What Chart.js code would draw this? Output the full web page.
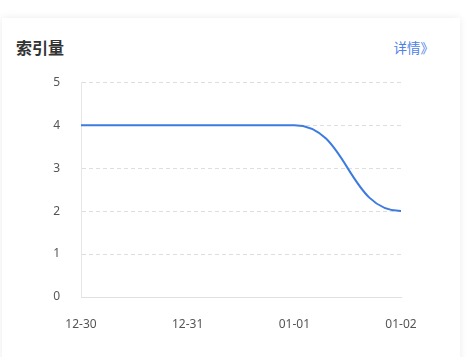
<!DOCTYPE html>
<html>
<head>
<meta charset="utf-8">
<script src="https://cdn.jsdelivr.net/npm/chart.js@4/dist/chart.umd.min.js"></script>
<style>
html,body{margin:0;padding:0;background:#fff;width:470px;height:357px;overflow:hidden;font-family:"Noto Sans CJK SC","Noto Sans",sans-serif;}
.card{position:absolute;left:2px;top:18px;width:458px;height:360px;background:#fff;box-shadow:0 0 8px rgba(0,0,0,0.08);}
.title{position:absolute;left:14px;top:19px;font-size:16px;font-weight:bold;color:#333;line-height:20px;}
.more{position:absolute;right:26px;top:20px;font-size:13.5px;color:#4f7fe8;line-height:18px;}
.wrap{position:absolute;left:0;top:54px;width:470px;height:303px;}
</style>
</head>
<body>
<div class="card"><div class="title">索引量</div><div class="more">详情》</div></div>
<div class="wrap"><canvas id="c"></canvas></div>
<script>
const categories = ["12-30", "12-31", "01-01", "01-02"];
const indexCounts = [4, 4, 4, 2];
const yTicks = [0, 1, 2, 3, 4, 5];

const flatCurve = {
  id: 'flatCurve',
  beforeDatasetsDraw(chart) {
    const meta = chart.getDatasetMeta(0);
    const line = meta.dataset;
    line.updateControlPoints(chart.chartArea, 'x');
    const pts = meta.data;
    const k = 0.5;
    for (let i = 0; i < pts.length; i++) {
      const p = pts[i];
      const prev = pts[i - 1], next = pts[i + 1];
      p.cp1x = prev ? p.x - (p.x - prev.x) * k : p.x;
      p.cp1y = p.y;
      p.cp2x = next ? p.x + (next.x - p.x) * k : p.x;
      p.cp2y = p.y;
    }
  }
};

new Chart(document.getElementById('c'), {
  type: 'line',
  data: {
    labels: categories,
    datasets: [{
      data: indexCounts,
      borderColor: '#3d7be0',
      borderWidth: 2,
      pointRadius: 0,
      pointHoverRadius: 0,
      tension: 0.4,
      fill: false
    }]
  },
  options: {
    responsive: true,
    maintainAspectRatio: false,
    animation: false,
    layout: { padding: { top: 16, right: 69, left: 0, bottom: 0 } },
    plugins: { legend: { display: false }, tooltip: { enabled: false } },
    scales: {
      x: {
        offset: false,
        grid: { display: false, drawTicks: false },
        border: { display: true, color: '#e0e0e0', width: 1 },
        ticks: { color: '#555', font: { size: 12, family: 'Noto Sans, sans-serif' }, padding: 20, maxRotation: 0, autoSkip: false },
        afterFit(s) { s.height = 60; }
      },
      y: {
        min: 0, max: 5,
        afterBuildTicks(s) { s.ticks = yTicks.map(v => ({ value: v })); },
        grid: { color: '#dedede', drawTicks: false },
        border: { display: true, color: '#e6e6e6', dash: [4, 3] },
        ticks: { color: '#555', font: { size: 12, family: 'Noto Sans, sans-serif' }, padding: 21 },
        afterFit(s) { s.width = 81; }
      }
    }
  },
  plugins: [flatCurve]
});
</script>
</body>
</html>
